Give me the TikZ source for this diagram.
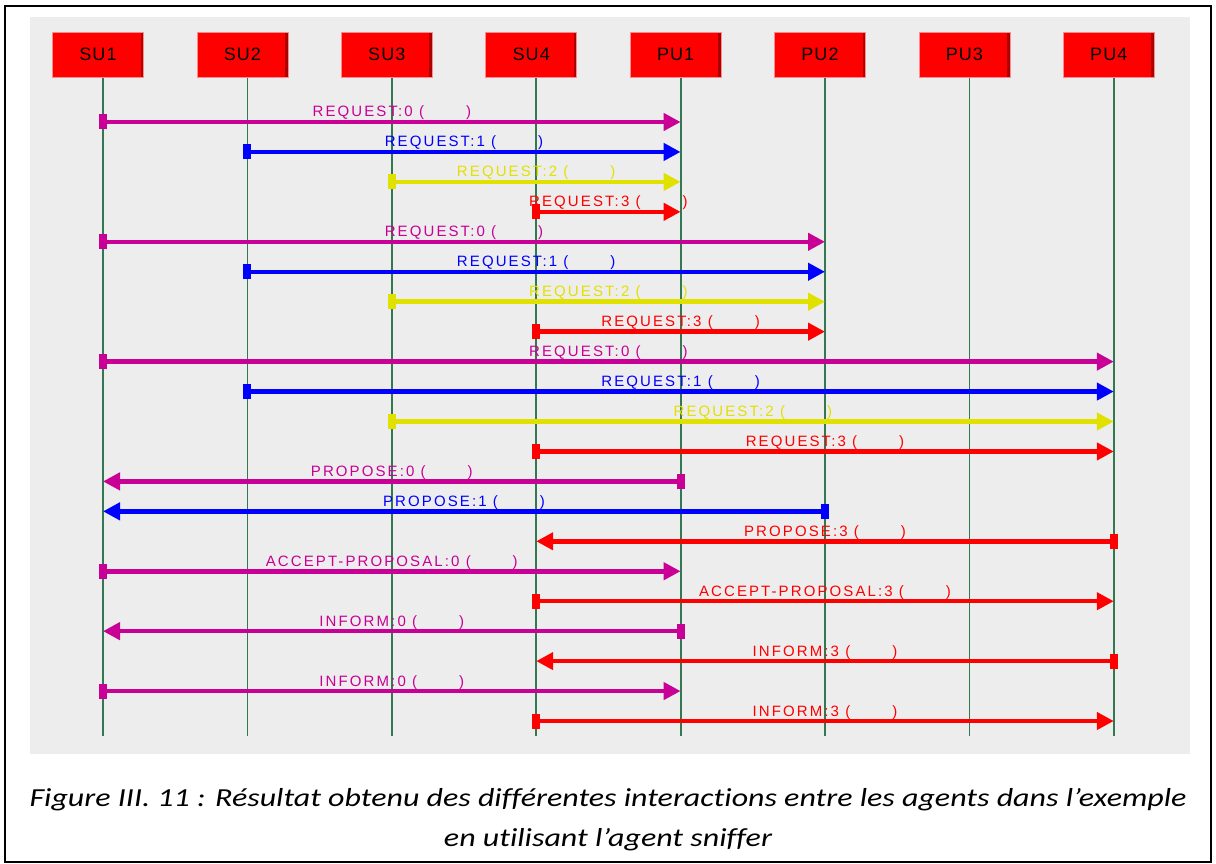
\documentclass[tikz,border=0pt]{standalone}
\usepackage{fontspec}
\setmainfont{Liberation Sans}
\newfontfamily\msgfont[LetterSpace=14]{Liberation Sans}
\newfontfamily\boxfont[LetterSpace=6]{Liberation Sans}
\newfontfamily\capfont[Ligatures=NoCommon]{Carlito}
\usetikzlibrary{arrows.meta,calc}
\definecolor{mag}{RGB}{200,0,150}
\definecolor{blu}{RGB}{0,0,255}
\definecolor{yel}{RGB}{225,225,0}
\definecolor{rd}{RGB}{255,0,0}
\definecolor{life}{RGB}{50,120,80}
\definecolor{panel}{RGB}{237,237,237}
\definecolor{boxedge}{RGB}{170,0,0}
\begin{document}
\begin{tikzpicture}[x=1pt,y=-1pt,
  agent/.style={minimum width=91pt, minimum height=45pt, fill=red, draw=red!45!white, line width=0.6pt, inner sep=0pt,
    font=\boxfont\fontsize{18}{18}\selectfont,
    path picture={\fill[boxedge] ([xshift=-3pt]path picture bounding box.north east) rectangle (path picture bounding box.south east);}},
  lifeline/.style={draw=life, line width=1.8pt},
  msgline/.style={line width=4.5pt, -{Triangle[length=17pt,width=17pt]}},
  msglabel/.style={font=\msgfont\fontsize{15}{15}\selectfont, inner sep=0pt, anchor=base},
  frame/.style={draw=black, line width=1.5pt},
  caption/.style={font=\capfont\itshape\fontsize{26}{26}\selectfont, inner sep=0pt, anchor=base}]
\useasboundingbox (0,0) rectangle (1216,864);
\draw[frame] (5,6) rectangle (1211,862);
\fill[panel] (30,17) rectangle (1190,754);
% agents and lifelines
\foreach \k/\name in {0/SU1,1/SU2,2/SU3,3/SU4,4/PU1,5/PU2,6/PU3,7/PU4}{
  \pgfmathsetmacro{\xx}{103+144.4*\k}
  \node[agent] (A\k) at (\xx-5,54.5) {\name};
  \coordinate (L\k) at (\xx,78);
  \coordinate (B\k) at (\xx,736);
  \draw[lifeline] (L\k) -- (B\k);
}
% messages: row/from/to/colour/text
\foreach \r/\f/\t/\c/\txt in {
  1/0/4/mag/REQUEST:0,
  2/1/4/blu/REQUEST:1,
  3/2/4/yel/REQUEST:2,
  4/3/4/rd/REQUEST:3,
  5/0/5/mag/REQUEST:0,
  6/1/5/blu/REQUEST:1,
  7/2/5/yel/REQUEST:2,
  8/3/5/rd/REQUEST:3,
  9/0/7/mag/REQUEST:0,
  10/1/7/blu/REQUEST:1,
  11/2/7/yel/REQUEST:2,
  12/3/7/rd/REQUEST:3,
  13/4/0/mag/PROPOSE:0,
  14/5/0/blu/PROPOSE:1,
  15/7/3/rd/PROPOSE:3,
  16/0/4/mag/ACCEPT-PROPOSAL:0,
  17/3/7/rd/ACCEPT-PROPOSAL:3,
  18/4/0/mag/INFORM:0,
  19/7/3/rd/INFORM:3,
  20/0/4/mag/INFORM:0,
  21/3/7/rd/INFORM:3}{
  \pgfmathsetmacro{\yy}{122+(\r-1)*29.95}
  \draw[msgline,\c] (L\f |- 0,\yy) -- (L\t |- 0,\yy);
  \fill[\c] ($(L\f |- 0,\yy)+(-4,-7.5)$) rectangle +(8,15);
  \node[msglabel,text=\c] at ($(L\f |- 0,\yy)!0.5!(L\t |- 0,\yy)+(0,-5)$) {\txt\ (\hspace{42pt})};
}
\node[caption] (cap1) at (608,806) {\scalebox{1.23}[1]{Figure III. 11 : Résultat obtenu des différentes interactions entre les agents dans l’exemple}};
\node[caption] (cap2) at (608,846) {\scalebox{1.23}[1]{en utilisant l’agent sniffer}};
\end{tikzpicture}
\end{document}
